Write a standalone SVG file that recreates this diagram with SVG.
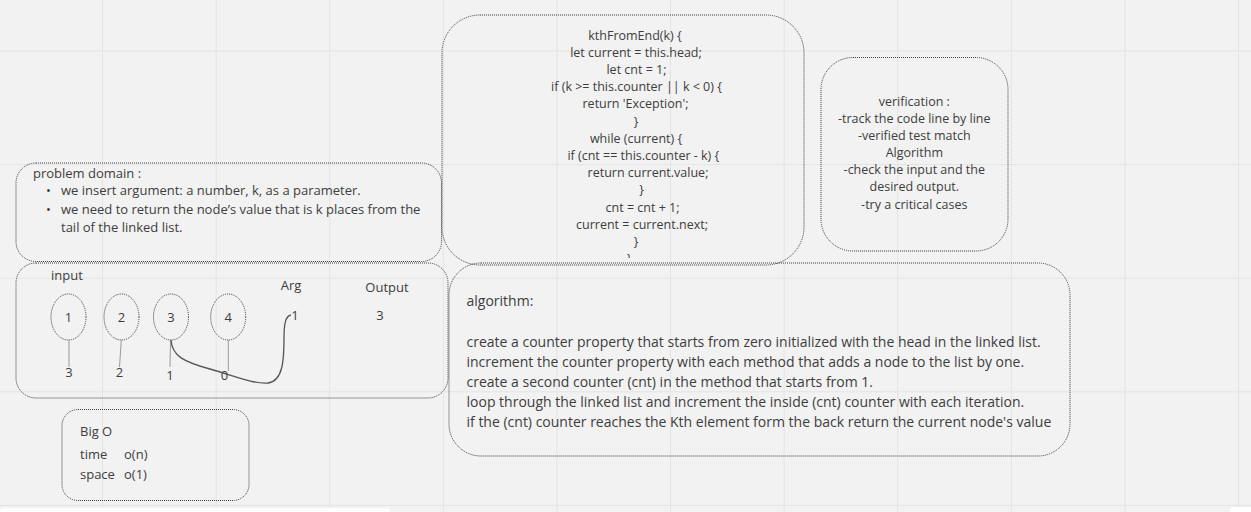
<svg xmlns="http://www.w3.org/2000/svg" width="1251" height="512" viewBox="0 0 1251 512">
<style>
  .bg { fill: #f2f2f2; }
  .grid line { stroke: #e4e4e4; stroke-width: 1; }
  .box { fill: none; stroke: #3a3a3a; stroke-width: 1; stroke-dasharray: 1 1; }
  .t { font-family: "Open Sans", "Liberation Sans", sans-serif; font-size: 13px; fill: #3d3d3d; }
  .alg { font-size: 14px; }
  .code { font-family: "Open Sans", "Liberation Sans", sans-serif; font-size: 12.5px; fill: #3d3d3d; text-anchor: middle; }
  .mid { text-anchor: middle; }
  .stem { stroke: #9a9a9a; stroke-width: 1; fill: none; }
  .link { stroke: #555; stroke-width: 1.3; fill: none; }
</style>
<defs>
  <clipPath id="codeclip"><rect x="440" y="10" width="370" height="248"/></clipPath>
</defs>
<rect class="bg" x="0" y="0" width="1251" height="512"/>
<g class="grid">
  <line x1="102.5" y1="0" x2="102.5" y2="512"/>
  <line x1="216.1" y1="0" x2="216.1" y2="512"/>
  <line x1="329.7" y1="0" x2="329.7" y2="512"/>
  <line x1="443.3" y1="0" x2="443.3" y2="512"/>
  <line x1="556.9" y1="0" x2="556.9" y2="512"/>
  <line x1="670.5" y1="0" x2="670.5" y2="512"/>
  <line x1="784.1" y1="0" x2="784.1" y2="512"/>
  <line x1="897.7" y1="0" x2="897.7" y2="512"/>
  <line x1="1011.3" y1="0" x2="1011.3" y2="512"/>
  <line x1="1124.9" y1="0" x2="1124.9" y2="512"/>
  <line x1="1238.5" y1="0" x2="1238.5" y2="512"/>
  <line x1="0" y1="51" x2="1251" y2="51"/>
  <line x1="0" y1="164.6" x2="1251" y2="164.6"/>
  <line x1="0" y1="278.2" x2="1251" y2="278.2"/>
  <line x1="0" y1="391.8" x2="1251" y2="391.8"/>
  <line x1="0" y1="505.4" x2="1251" y2="505.4"/>
</g>
<rect x="0" y="508" width="390" height="10" rx="3" fill="#ffffff"/>
<rect x="1230" y="507" width="30" height="10" rx="3" fill="#ffffff"/>

<g id="problem-domain">
  <rect class="box" x="16" y="163" width="425.5" height="98.5" rx="20"/>
  <text class="t" x="33" y="177.5">problem domain :</text>
  <text class="t" x="46" y="195">•</text>
  <text class="t" x="61" y="195">we insert argument: a number, k, as a parameter.</text>
  <text class="t" x="46" y="214">•</text>
  <text class="t" x="61" y="214">we need to return the node’s value that is k places from the</text>
  <text class="t" x="61" y="232">tail of the linked list.</text>
</g>

<g id="input">
  <rect class="box" x="16" y="263" width="432" height="135" rx="20"/>
  <text class="t" x="51" y="280">input</text>
  <text class="t mid" x="291" y="290">Arg</text>
  <text class="t mid" x="387" y="291.5">Output</text>
  <text class="t mid" x="295" y="319.5">1</text>
  <text class="t mid" x="380" y="319.5">3</text>
  <text class="t mid" x="69" y="376.5">3</text>
  <text class="t mid" x="119.5" y="376.5">2</text>
  <text class="t mid" x="170" y="380">1</text>
  <text class="t mid" x="224.5" y="380">0</text>
</g>

<g id="node-1">
  <ellipse class="box" cx="68.5" cy="317" rx="17.5" ry="23"/>
  <text class="t mid" x="68.5" y="321.5">1</text>
</g>
<g id="node-2">
  <ellipse class="box" cx="121.5" cy="317" rx="17.5" ry="23"/>
  <text class="t mid" x="121.5" y="321.5">2</text>
</g>
<g id="node-3">
  <ellipse class="box" cx="171" cy="317" rx="17.5" ry="23"/>
  <text class="t mid" x="171" y="321.5">3</text>
</g>
<g id="node-4">
  <ellipse class="box" cx="228.2" cy="317" rx="17.5" ry="23"/>
  <text class="t mid" x="228.2" y="321.5">4</text>
</g>

<g id="connectors">
  <line class="stem" x1="69" y1="340" x2="69" y2="367"/>
  <line class="stem" x1="121.3" y1="340" x2="119.5" y2="367"/>
  <line class="stem" x1="170.5" y1="340" x2="170" y2="367"/>
  <line class="stem" x1="228.3" y1="340" x2="228.3" y2="371"/>
  <path class="link" d="M171,340 C172,356 184,362 210,369 C235,376 252,384 268,383 C283,381 284,360 284,338 C284,322 286,316 291,315"/>
</g>

<g id="code">
  <rect class="box" x="442" y="15" width="362" height="250" rx="38"/>
  <text class="code" x="635" y="39.5">kthFromEnd(k) {</text>
  <text class="code" x="636" y="56.7">let current = this.head;</text>
  <text class="code" x="636.5" y="73.9">let cnt = 1;</text>
  <text class="code" x="636.5" y="91.1">if (k &gt;= this.counter || k &lt; 0) {</text>
  <text class="code" x="635.5" y="108.3">return 'Exception';</text>
  <text class="code" x="636" y="125.5">}</text>
  <text class="code" x="636" y="142.7">while (current) {</text>
  <text class="code" x="643.3" y="159.9">if (cnt == this.counter - k) {</text>
  <text class="code" x="648" y="177.1">return current.value;</text>
  <text class="code" x="641.7" y="194.3">}</text>
  <text class="code" x="642.5" y="211.5">cnt = cnt + 1;</text>
  <text class="code" x="642" y="228.7">current = current.next;</text>
  <text class="code" x="636" y="245.9">}</text>
  <text class="code" x="629" y="263.1" clip-path="url(#codeclip)">}</text>
</g>

<g id="verification">
  <rect class="box" x="821" y="57.5" width="187" height="193.5" rx="32"/>
  <text class="code" x="914.3" y="106">verification :</text>
  <text class="code" x="914.3" y="123">-track the code line by line</text>
  <text class="code" x="914.3" y="140">-verified test match</text>
  <text class="code" x="914.3" y="157">Algorithm</text>
  <text class="code" x="914.3" y="174.3">-check the input and the</text>
  <text class="code" x="914.3" y="191">desired output.</text>
  <text class="code" x="914.3" y="208.5">-try a critical cases</text>
</g>

<g id="algorithm">
  <rect class="box" x="449" y="263" width="621" height="193" rx="32"/>
  <text class="t alg" x="466.5" y="305.5">algorithm:</text>
  <text class="t alg" x="466.5" y="346.5">create a counter property that starts from zero initialized with the head in the linked list.</text>
  <text class="t alg" x="466.5" y="366.5">increment the counter property with each method that adds a node to the list by one.</text>
  <text class="t alg" x="466.5" y="386.5">create a second counter (cnt) in the method that starts from 1.</text>
  <text class="t alg" x="466.5" y="406.5">loop through the linked list and increment the inside (cnt) counter with each iteration.</text>
  <text class="t alg" x="466.5" y="426.5">if the (cnt) counter reaches the Kth element form the back return the current node's value</text>
</g>

<g id="big-o">
  <rect class="box" x="62" y="409.5" width="187" height="91" rx="16"/>
  <text class="t" x="80" y="436">Big O</text>
  <text class="t" x="80" y="459"><tspan>time</tspan><tspan x="124">o(n)</tspan></text>
  <text class="t" x="80" y="478.5"><tspan>space</tspan><tspan x="124">o(1)</tspan></text>
</g>
</svg>
